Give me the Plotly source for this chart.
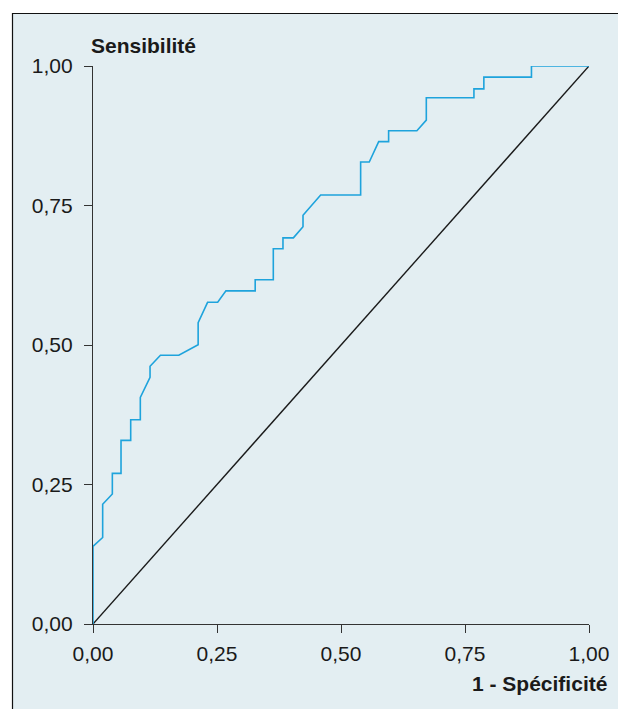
import plotly.graph_objects as go

# ROC curve points (1 - specificity, sensitivity)
fpr = [0, 0, 0.0195, 0.0195, 0.039, 0.039, 0.0565, 0.0565, 0.076, 0.076, 0.0954, 0.0954,
       0.115, 0.115, 0.136, 0.173, 0.212, 0.212, 0.231, 0.2514, 0.268, 0.327, 0.327,
       0.3635, 0.3635, 0.383, 0.383, 0.404, 0.4234, 0.4234, 0.459, 0.5396, 0.5396,
       0.557, 0.576, 0.596, 0.596, 0.653, 0.672, 0.672, 0.768, 0.768, 0.788, 0.788,
       0.884, 0.884, 1.0]
tpr = [0, 0.139, 0.155, 0.2145, 0.233, 0.270, 0.270, 0.329, 0.329, 0.366, 0.366, 0.406,
       0.442, 0.462, 0.4815, 0.4815, 0.5006, 0.540, 0.5765, 0.5765, 0.597, 0.597, 0.617,
       0.617, 0.6726, 0.6726, 0.692, 0.692, 0.712, 0.7324, 0.7688, 0.7688, 0.828,
       0.828, 0.8644, 0.8644, 0.884, 0.884, 0.903, 0.943, 0.943, 0.959, 0.959, 0.980,
       0.980, 1.0, 1.0]
diag_x = [0, 1]
diag_y = [0, 1]
tick_vals = [0, 0.25, 0.5, 0.75, 1.0]
tick_text = ["0,00", "0,25", "0,50", "0,75", "1,00"]

W, H = 618, 709
L, R, T, B = 93, 29, 66, 85
pw, ph = W - L - R, H - T - B

fig = go.Figure()
fig.add_trace(go.Scatter(x=diag_x, y=diag_y, mode="lines",
                         line=dict(color="#1a1a1a", width=1.4), hoverinfo="skip"))
fig.add_trace(go.Scatter(x=fpr, y=tpr, mode="lines",
                         line=dict(color="#1ea3dc", width=1.6)))

def px2paper_x(px):
    return (px - L) / pw

def px2paper_y(py):
    return (H - B - py) / ph

fig.add_shape(type="rect", xref="paper", yref="paper",
              x0=px2paper_x(12.5), x1=px2paper_x(W + 20),
              y0=px2paper_y(H + 20), y1=px2paper_y(13.5),
              fillcolor="#e3eef2", line=dict(color="#111111", width=1.2), layer="below")

font = dict(family="Liberation Sans, Arial, sans-serif", size=21, color="#1a1a1a")
axis_common = dict(range=[0, 1], tickvals=tick_vals, ticktext=tick_text,
                   showgrid=False, zeroline=False, showline=True, linecolor="#333333",
                   linewidth=1.2, ticks="outside", ticklen=8, tickcolor="#333333",
                   tickwidth=1.2, tickfont=font, fixedrange=True, automargin=False)
fig.update_xaxes(**axis_common)
fig.update_xaxes(ticklabelstandoff=3)
fig.update_yaxes(**axis_common)
fig.update_yaxes(ticklabelstandoff=7)

fig.add_annotation(text="<b>Sensibilité</b>", xref="paper", yref="paper",
                   x=px2paper_x(89), y=px2paper_y(45), xanchor="left", yanchor="middle",
                   showarrow=False, font=font)
fig.add_annotation(text="<b>1 - Spécificité</b>", xref="paper", yref="paper",
                   x=px2paper_x(609), y=px2paper_y(683), xanchor="right", yanchor="middle",
                   showarrow=False, font=font)

fig.update_layout(width=W, height=H, margin=dict(l=L, r=R, t=T, b=B),
                  paper_bgcolor="white", plot_bgcolor="rgba(0,0,0,0)",
                  showlegend=False)
fig.write_html("out.html")
